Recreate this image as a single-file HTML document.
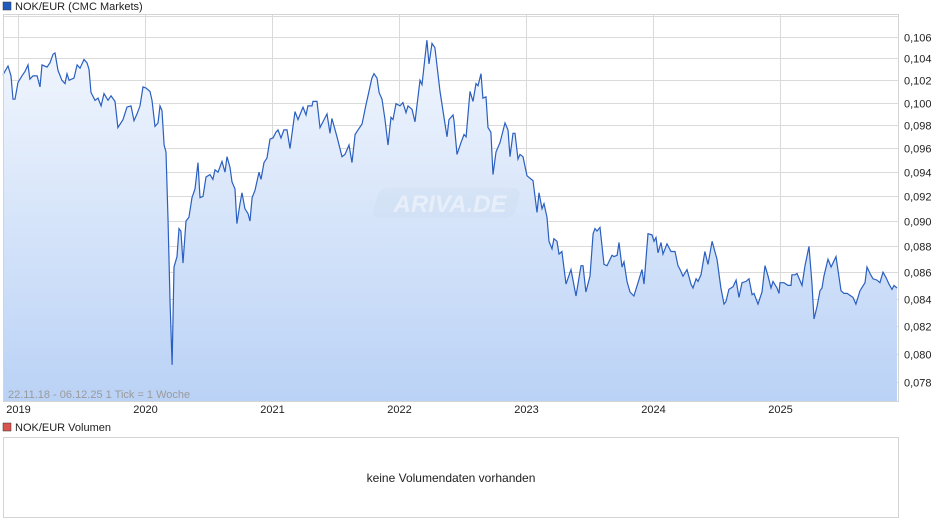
<!DOCTYPE html>
<html><head><meta charset="utf-8"><style>
body{margin:0;background:#fff;width:940px;height:526px;overflow:hidden;font-family:"Liberation Sans",sans-serif}
svg text{font-family:"Liberation Sans Narrow","Liberation Sans",sans-serif}
</style></head><body>
<svg id="chart" width="940" height="526" xmlns="http://www.w3.org/2000/svg">
<defs>
<linearGradient id="fillg" gradientUnits="userSpaceOnUse" x1="0" y1="15" x2="0" y2="401">
<stop offset="0" stop-color="#f6f9fe"/><stop offset="1" stop-color="#bad2f6"/>
</linearGradient>
</defs>
<g id="grid"></g>
<path id="area" fill="url(#fillg)"/>
<g>
<rect x="378" y="188" width="142" height="30" rx="8" fill="#c8d6ea" opacity="0.25" transform="skewX(-15) translate(52,0)"/>
<text x="450" y="212" text-anchor="middle" font-size="24" font-style="italic" font-weight="bold" fill="#ffffff" opacity="0.45" style="font-family:'Liberation Sans',sans-serif">ARIVA.DE</text>
</g>
<path id="line" fill="none" stroke="#2a5fc0" stroke-width="1.2"/>
<rect x="3.5" y="14.5" width="895" height="387" fill="none" stroke="#d4d4d4"/>
<g id="yticks"></g>
<g id="xticks"></g>
<rect x="3" y="2" width="8" height="8" fill="#1f5bbf" stroke="#333" stroke-width="0.5"/>
<text x="15" y="10" font-size="11" fill="#222" style="font-family:'Liberation Sans',sans-serif">NOK/EUR (CMC Markets)</text>
<text x="8" y="398" font-size="11" fill="#9a9a9a">22.11.18 - 06.12.25   1 Tick = 1 Woche</text>
<rect x="3" y="423" width="8" height="8" fill="#d9534f" stroke="#333" stroke-width="0.5"/>
<text x="15" y="431" font-size="11" fill="#222">NOK/EUR Volumen</text>
<rect x="3.5" y="437.5" width="895" height="80" fill="#fff" stroke="#d4d4d4"/>
<text x="451" y="482" text-anchor="middle" font-size="12" fill="#222" style="font-family:'Liberation Sans',sans-serif">keine Volumendaten vorhanden</text>
</svg>
<script>
const dates=[2018.882,2018.921,2018.945,2018.961,2018.976,2019.000,2019.031,2019.055,2019.079,2019.094,2019.118,2019.150,2019.173,2019.189,2019.228,2019.252,2019.276,2019.291,2019.315,2019.346,2019.370,2019.386,2019.402,2019.441,2019.465,2019.488,2019.520,2019.543,2019.559,2019.575,2019.606,2019.630,2019.654,2019.677,2019.709,2019.732,2019.764,2019.787,2019.827,2019.858,2019.890,2019.913,2019.937,2019.961,2019.984,2020.008,2020.039,2020.055,2020.079,2020.102,2020.118,2020.134,2020.150,2020.165,2020.181,2020.197,2020.213,2020.228,2020.252,2020.268,2020.283,2020.299,2020.323,2020.346,2020.370,2020.394,2020.417,2020.433,2020.457,2020.480,2020.512,2020.535,2020.551,2020.575,2020.606,2020.630,2020.646,2020.669,2020.685,2020.709,2020.724,2020.748,2020.764,2020.787,2020.811,2020.827,2020.843,2020.866,2020.898,2020.913,2020.937,2020.961,2020.984,2021.008,2021.031,2021.047,2021.071,2021.094,2021.118,
2021.142,2021.181,2021.205,2021.244,2021.268,2021.283,2021.315,2021.323,2021.354,2021.378,2021.433,2021.457,2021.472,2021.512,2021.551,2021.575,2021.606,2021.630,2021.654,2021.677,2021.709,2021.740,2021.787,2021.803,2021.827,2021.843,2021.866,2021.890,2021.913,2021.937,2021.953,2021.976,2022.008,2022.031,2022.055,2022.071,2022.102,2022.126,2022.165,2022.181,2022.220,2022.236,2022.260,2022.283,2022.323,2022.378,2022.394,2022.425,2022.433,2022.457,2022.488,2022.512,2022.528,2022.559,2022.583,2022.606,2022.622,2022.646,2022.661,2022.685,2022.701,2022.724,2022.740,2022.764,2022.795,2022.835,2022.858,2022.874,2022.898,2022.913,2022.937,2022.953,2022.976,2023.008,2023.055,2023.087,2023.102,2023.126,2023.142,2023.165,2023.181,2023.205,2023.220,2023.244,2023.260,2023.283,2023.315,2023.354,2023.394,2023.433,2023.449,2023.472,2023.504,
2023.528,2023.543,2023.559,2023.583,2023.614,2023.638,2023.677,2023.693,2023.717,2023.732,2023.756,2023.772,2023.795,2023.819,2023.850,2023.882,2023.913,2023.929,2023.961,2023.992,2024.008,2024.024,2024.039,2024.063,2024.079,2024.110,2024.142,2024.173,2024.197,2024.213,2024.236,2024.268,2024.299,2024.315,2024.339,2024.354,2024.378,2024.409,2024.433,2024.465,2024.504,2024.535,2024.559,2024.575,2024.598,2024.630,2024.654,2024.677,2024.701,2024.732,2024.756,2024.780,2024.795,2024.827,2024.858,2024.882,2024.906,2024.929,2024.945,2024.976,2024.992,2025.000,2025.031,2025.063,2025.087,2025.094,2025.118,2025.134,2025.173,2025.197,2025.228,2025.252,2025.268,2025.291,2025.315,2025.331,2025.346,2025.378,2025.402,2025.441,2025.480,2025.504,2025.528,2025.559,2025.575,2025.598,2025.630,2025.669,2025.685,2025.709,2025.732,2025.764,2025.787,2025.811,2025.835,2025.858,2025.882,2025.898,2025.921];
const prices=[.1025,.1033,.1024,.1003,.1003,.1018,.1024,.1028,.1034,.1021,.1024,.1024,.1014,.1034,.1032,.1036,.1044,.1045,.1029,.1020,.1017,.1026,.1020,.1022,.1034,.1031,.1039,.1036,.1030,.1009,.1002,.1004,.0997,.1008,.1002,.1006,.1001,.0978,.0985,.0996,.0997,.0984,.0990,.0997,.1014,.1013,.1010,.1002,.0979,.0982,.0997,.0993,.0963,.0957,.0902,.0839,.0792,.0864,.0872,.0894,.0892,.0867,.0900,.0903,.0919,.0926,.0948,.0919,.0920,.0936,.0938,.0934,.0942,.0940,.0949,.0940,.0953,.0944,.0932,.0926,.0898,.0914,.0923,.0910,.0906,.0900,.0919,.0925,.0940,.0934,.0948,.0952,.0968,.0969,.0974,.0976,.0969,.0976,.0976,
.0960,.0992,.0985,.0996,.0989,.0997,.0997,.1001,.1001,.0978,.0990,.0973,.0986,.0970,.0953,.0955,.0963,.0948,.0972,.0976,.0981,.0998,.1022,.1026,.1022,.1009,.1003,.0985,.0963,.0987,.0985,.0999,.0997,.1000,.0991,.0997,.0994,.0983,.1020,.1016,.1057,.1035,.1054,.1050,.1010,.0970,.0985,.0989,.0984,.0955,.0965,.0972,.0970,.1010,.1001,.1017,.1015,.1026,.1004,.1005,.0978,.0974,.0938,.0957,.0965,.0982,.0976,.0953,.0973,.0973,.0951,.0955,.0953,.0937,.0933,.0907,.0923,.0910,.0914,.0903,.0884,.0878,.0886,.0884,.0874,.0876,.0851,.0862,.0842,.0865,.0865,.0845,.0857,
.0890,.0894,.0892,.0895,.0866,.0865,.0873,.0872,.0873,.0883,.0864,.0868,.0853,.0845,.0842,.0852,.0862,.0851,.0890,.0889,.0884,.0887,.0875,.0883,.0874,.0882,.0876,.0876,.0865,.0862,.0857,.0862,.0851,.0848,.0855,.0853,.0858,.0876,.0866,.0884,.0870,.0848,.0836,.0838,.0847,.0849,.0854,.0841,.0852,.0853,.0855,.0843,.0844,.0836,.0845,.0865,.0857,.0848,.0853,.0848,.0844,.0852,.0852,.0850,.0850,.0858,.0858,.0859,.0850,.0865,.0880,.0851,.0825,.0834,.0846,.0848,.0857,.0870,.0864,.0872,.0846,.0844,.0844,.0842,.0841,.0836,.0846,.0852,.0864,.0859,.0855,.0854,.0852,.0860,.0856,.0851,.0847,.0850,.0848];
const yTickValues=[0.078,0.080,0.082,0.084,0.086,0.088,0.090,0.092,0.094,0.096,0.098,0.100,0.102,0.104,0.106,0.108];
const xTickYears=[2019,2020,2021,2022,2023,2024,2025];

const NS='http://www.w3.org/2000/svg';
function xs(t){return 18+(t-2019)*127;}
function ys(v){return 37+1125*Math.log(0.106/v);}
const grid=document.getElementById('grid'),yt=document.getElementById('yticks'),xt=document.getElementById('xticks');
yTickValues.forEach(v=>{
  const y=Math.round(ys(v))+0.5;
  if(y<14||y>401)return;
  const l=document.createElementNS(NS,'line');
  l.setAttribute('x1',3);l.setAttribute('x2',898);l.setAttribute('y1',y);l.setAttribute('y2',y);
  l.setAttribute('stroke','#dadada');
  
  
  grid.appendChild(l);
  if(v<=0.1065){
    const t=document.createElementNS(NS,'text');
    t.setAttribute('x',904);t.setAttribute('y',y+4);t.setAttribute('font-size','11');t.setAttribute('fill','#222');
    t.textContent=v.toFixed(3).replace('.',',');
    
    
    yt.appendChild(t);
  }
});
xTickYears.forEach(yr=>{
  const x=Math.round(xs(yr))+0.5;
  const l=document.createElementNS(NS,'line');
  l.setAttribute('x1',x);l.setAttribute('x2',x);l.setAttribute('y1',14);l.setAttribute('y2',401);
  l.setAttribute('stroke','#dadada');
  
  
  grid.appendChild(l);
  const t=document.createElementNS(NS,'text');
  t.setAttribute('x',x);t.setAttribute('y',413);t.setAttribute('font-size','11');t.setAttribute('fill','#222');t.setAttribute('text-anchor','middle');
  t.textContent=yr;
  
  
  xt.appendChild(t);
});
let d='';
for(let i=0;i<prices.length;i++){d+=(i?'L':'M')+xs(dates[i]).toFixed(1)+','+ys(prices[i]).toFixed(1);}
document.getElementById('line').setAttribute('d',d);
const x0=xs(dates[0]).toFixed(1),x1=xs(dates[dates.length-1]).toFixed(1);
document.getElementById('area').setAttribute('d',d+'L'+x1+',401L'+x0+',401Z');
</script>
</body></html>
